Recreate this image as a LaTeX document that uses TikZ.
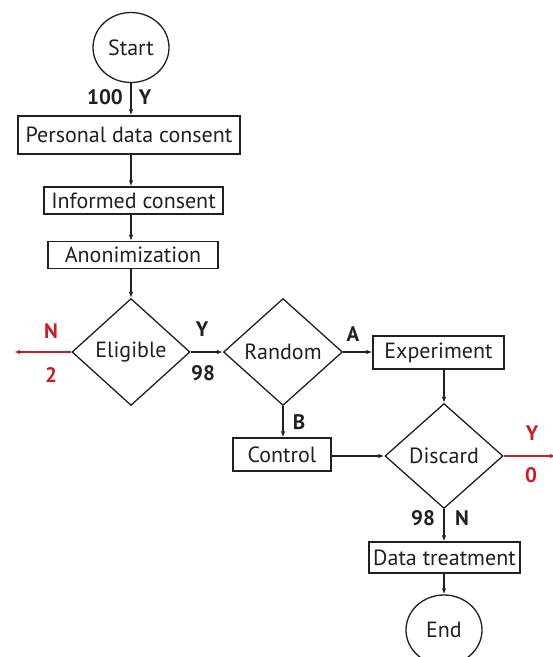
\documentclass[tikz,border=0pt]{standalone}
\usepackage{fontspec}
\setmainfont{PT Sans}
\usetikzlibrary{shapes.geometric,arrows.meta}
\definecolor{txt}{RGB}{35,31,32}
\definecolor{redc}{RGB}{200,30,40}
\tikzset{
  base/.style={draw=txt, line width=1.3pt, text=txt, font=\fontsize{22}{24}\selectfont, inner sep=0pt},
  box/.style={base, rectangle},
  term/.style={base, ellipse, minimum width=76pt, minimum height=70pt},
  dec/.style={base, diamond, aspect=1, minimum width=118pt, minimum height=107pt},
  conn/.style={draw=txt, line width=1.3pt, -{Latex[length=6pt,width=4.5pt]}},
  rconn/.style={draw=redc, line width=1.3pt, -{Latex[length=6pt,width=4.5pt]}},
  lab/.style={text=txt, font=\fontsize{21}{24}\selectfont\bfseries, inner sep=0pt},
  rlab/.style={text=redc, font=\fontsize{21}{24}\selectfont\bfseries, inner sep=0pt}
}
\begin{document}
\begin{tikzpicture}[x=1pt,y=-1pt]
\useasboundingbox (0,0) rectangle (553,657);
\node[term] (start) at (131,47.5) {Start};
\node[box, minimum width=222pt, minimum height=38pt] (pdc) at (129,135) {Personal data consent};
\node[box, minimum width=179pt, minimum height=27pt] (ic) at (133.5,200.5) {Informed consent};
\node[box, minimum width=170pt, minimum height=27pt] (an) at (133,255) {Anonimization};
\node[dec] (elig) at (131,352) {Eligible};
\node[dec, minimum width=119pt] (rand) at (283,352) {Random};
\node[box, minimum width=131pt, minimum height=33pt] (exp) at (438.5,352.5) {Experiment};
\node[box, minimum width=98pt, minimum height=33pt] (ctrl) at (282,454.5) {Control};
\node[dec, minimum height=105pt] (disc) at (444,456) {Discard};
\node[box, minimum width=151pt, minimum height=31pt] (dt) at (444.5,557.5) {Data treatment};
\node[term] (end) at (444,630) {End};
\coordinate (lout) at (14,352);
\coordinate (rout) at (556,456);

\path[conn] (start) -- (start.south |- pdc.north);
\path[conn] (pdc.south -| start.south) -- (ic.north -| start.south);
\path[conn] (ic.south -| start.south) -- (an.north -| start.south);
\path[conn] (an.south -| start.south) -- (elig.north);
\path[rconn] (elig.west) -- (lout);
\path[conn] (elig.east) -- (rand.west);
\path[conn] (rand.east) -- (exp.west |- rand.east);
\path[conn] (exp.south -| disc.north) -- (disc.north);
\path[conn] (rand.south) -- (ctrl.north -| rand.south);
\path[conn] (ctrl.east |- disc.west) -- (disc.west);
\path[rconn] (disc.east) -- (rout);
\path[conn] (disc.south) -- (dt.north -| disc.south);
\path[conn] (dt.south -| end.north) -- (end.north);

\node[lab] (l100) at (105,97) {100};
\node[lab] (ly1) at (145,97) {Y};
\node[rlab] (ln1) at (51,331) {N};
\node[rlab] (l2) at (51,375) {2};
\node[lab] (ly2) at (202,329) {Y};
\node[lab] (l98a) at (203,373) {98};
\node[lab] (la) at (353,334) {A};
\node[lab] (lb) at (299,422) {B};
\node[rlab] (ly3) at (532,433) {Y};
\node[rlab] (l0) at (531,475) {0};
\node[lab] (l98b) at (423,518) {98};
\node[lab] (ln2) at (462,518) {N};
\end{tikzpicture}
\end{document}
